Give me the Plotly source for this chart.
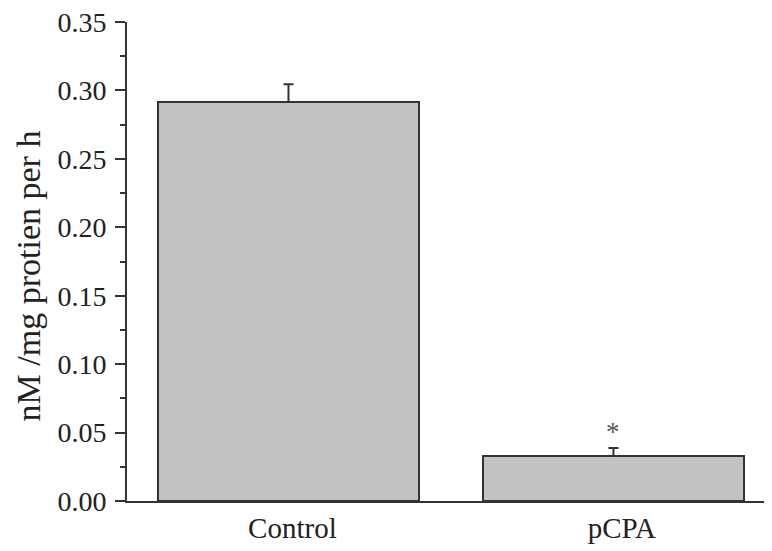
import plotly.graph_objects as go

categories = ["Control", "pCPA"]
values = [0.2915, 0.0329]
errors = [0.013, 0.0058]
y_ticks = [0.00, 0.05, 0.10, 0.15, 0.20, 0.25, 0.30, 0.35]
y_tick_labels = ["0.00", "0.05", "0.10", "0.15", "0.20", "0.25", "0.30", "0.35"]
y_title = "nM /mg protien per h"
sig_marks = ["", "*"]
sig_y = [None, 0.0504]
label_nudge = [0.012, 0.026]

FONT = "Liberation Serif, Times New Roman, serif"

fig = go.Figure()
fig.add_trace(go.Bar(
    x=[0, 1],
    y=values,
    width=0.803,
    marker=dict(color="#c2c2c2", line=dict(color="#333333", width=2)),
    error_y=dict(type="data", array=errors, arrayminus=[0, 0], symmetric=False,
                 color="#333333", thickness=2, width=5),
    showlegend=False,
))

for i, (m, yy) in enumerate(zip(sig_marks, sig_y)):
    if m:
        fig.add_annotation(x=i, y=yy, xref="x", yref="y", text=m, showarrow=False,
                           font=dict(family=FONT, size=27, color="#555555"),
                           yanchor="middle")

fig.add_annotation(x=-0.152, y=0.4708, xref="paper", yref="paper", text=y_title,
                   textangle=-90, showarrow=False,
                   font=dict(family=FONT, size=34, color="#222222"),
                   xanchor="center", yanchor="middle")

fig.update_layout(
    width=764, height=543,
    margin=dict(l=119, r=0, t=14, b=50),
    paper_bgcolor="white", plot_bgcolor="white",
    font=dict(family=FONT, size=28, color="#222222"),
    bargap=0,
)
fig.update_xaxes(
    range=[-0.497, 1.488],
    tickvals=[i + d for i, d in enumerate(label_nudge)], ticktext=categories,
    showline=True, linecolor="#333333", linewidth=2,
    ticks="", showgrid=False, zeroline=False,
    tickfont=dict(family=FONT, size=29, color="#222222"),
)
fig.update_yaxes(
    range=[0, 0.35],
    tickvals=y_ticks, ticktext=y_tick_labels,
    showline=True, linecolor="#333333", linewidth=2,
    ticks="outside", ticklen=10, tickwidth=2, tickcolor="#333333",
    ticklabelstandoff=3, ticklabeloverflow="allow",
    minor=dict(ticks="outside", ticklen=5, tickwidth=2, tickcolor="#333333", dtick=0.025),
    showgrid=False, zeroline=False,
    tickfont=dict(family=FONT, size=28, color="#222222"),
)

fig.write_html("out.html")
